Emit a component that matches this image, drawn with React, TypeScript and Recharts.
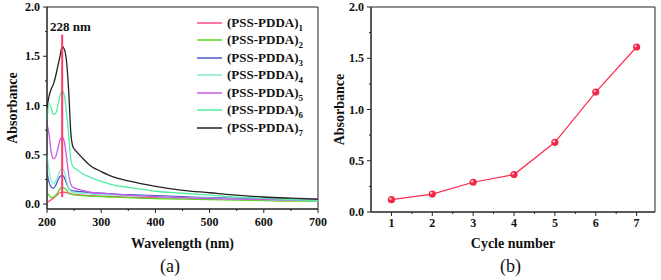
import { LineChart, Line, XAxis, YAxis, ReferenceArea, ReferenceLine, Legend } from 'recharts';

const FONT = '"Liberation Serif", "Times New Roman", serif';

// (a) UV-vis spectra, one array per layer count
const wavelengths = [200, 204, 208, 212, 216, 220, 224, 228, 232, 236, 240, 244, 248, 255, 265, 280, 300, 325, 350, 400, 450, 500, 550, 600, 650, 700];
const pssPdda1 = [0.02, 0.03, 0.045, 0.06, 0.08, 0.1, 0.115, 0.12, 0.12, 0.115, 0.11, 0.105, 0.1, 0.095, 0.09, 0.085, 0.08, 0.075, 0.07, 0.065, 0.06, 0.058, 0.055, 0.052, 0.05, 0.048];
const pssPdda2 = [0.12, 0.09, 0.065, 0.07, 0.09, 0.12, 0.155, 0.17, 0.165, 0.14, 0.115, 0.1, 0.095, 0.09, 0.085, 0.08, 0.075, 0.07, 0.065, 0.055, 0.05, 0.045, 0.04, 0.035, 0.03, 0.03];
const pssPdda3 = [0.32, 0.22, 0.17, 0.16, 0.19, 0.24, 0.28, 0.29, 0.27, 0.21, 0.16, 0.14, 0.135, 0.13, 0.125, 0.115, 0.11, 0.1, 0.095, 0.085, 0.075, 0.065, 0.058, 0.05, 0.045, 0.04];
const pssPdda4 = [0.5, 0.33, 0.24, 0.21, 0.23, 0.28, 0.34, 0.36, 0.33, 0.24, 0.16, 0.13, 0.12, 0.115, 0.11, 0.1, 0.095, 0.09, 0.085, 0.075, 0.065, 0.06, 0.05, 0.045, 0.04, 0.035];
const pssPdda5 = [0.82, 0.7, 0.52, 0.46, 0.48, 0.56, 0.65, 0.68, 0.63, 0.48, 0.3, 0.2, 0.17, 0.155, 0.14, 0.12, 0.11, 0.1, 0.09, 0.075, 0.065, 0.055, 0.05, 0.045, 0.04, 0.035];
const pssPdda6 = [0.85, 1.02, 0.97, 0.91, 0.92, 1.0, 1.1, 1.15, 1.1, 0.93, 0.7, 0.45, 0.38, 0.35, 0.31, 0.27, 0.23, 0.19, 0.17, 0.13, 0.11, 0.09, 0.07, 0.06, 0.045, 0.035];
const pssPdda7 = [0.98, 1.1, 1.17, 1.22, 1.3, 1.4, 1.5, 1.6, 1.57, 1.45, 1.15, 0.72, 0.58, 0.53, 0.47, 0.39, 0.33, 0.27, 0.235, 0.18, 0.14, 0.115, 0.09, 0.072, 0.06, 0.05];

const layerNames = ['(PSS-PDDA)1', '(PSS-PDDA)2', '(PSS-PDDA)3', '(PSS-PDDA)4', '(PSS-PDDA)5', '(PSS-PDDA)6', '(PSS-PDDA)7'];
const layerColors = ['#ff4a86', '#5ad81a', '#4a58cc', '#84efc8', '#c85ae8', '#50eea2', '#222222'];
const layerSeries = [pssPdda1, pssPdda2, pssPdda3, pssPdda4, pssPdda5, pssPdda6, pssPdda7];

// (b) absorbance at 228 nm vs cycle
const cycles = [1, 2, 3, 4, 5, 6, 7];
const peakAbsorbance = [0.12, 0.175, 0.29, 0.365, 0.68, 1.17, 1.61];

const wlTicks = [200, 250, 300, 350, 400, 450, 500, 550, 600, 650, 700];
const wlMajor = [200, 300, 400, 500, 600, 700];
const absTicks = [0, 0.25, 0.5, 0.75, 1, 1.25, 1.5, 1.75, 2];
const absMajor = [0, 0.5, 1, 1.5, 2];
const cycleTicks = [1, 1.5, 2, 2.5, 3, 3.5, 4, 4.5, 5, 5.5, 6, 6.5, 7];

const spectra = wavelengths.map((wl, i) => {
  const row: Record<string, number> = { wl };
  layerSeries.forEach((s, k) => { row['l' + (k + 1)] = s[i]; });
  return row;
});
const growth = cycles.map((c, i) => ({ cycle: c, abs: peakAbsorbance[i] }));

const fmt1 = (v: number) => v.toFixed(1);
const fmt0 = (v: number) => String(v);

function bottomTick(major: number[] | null, fmt: (v: number) => string, dy: number) {
  return (props: any) => {
    const { x, y, payload } = props;
    const isMajor = major ? major.includes(payload.value) : Number.isInteger(payload.value);
    return (
      <g>
        <line x1={x} x2={x} y1={y} y2={y + (isMajor ? 4 : 2)} stroke="#222" />
        {isMajor && (
          <text x={x} y={y + dy} textAnchor="middle" fontSize={12} fontWeight="bold" fontFamily={FONT} fill="#111">
            {fmt(payload.value)}
          </text>
        )}
      </g>
    );
  };
}

function leftTick(props: any) {
  const { x, y, payload } = props;
  const isMajor = absMajor.includes(payload.value);
  return (
    <g>
      <line x1={x} x2={x - (isMajor ? 4 : 2)} y1={y} y2={y} stroke="#222" />
      {isMajor && (
        <text x={x - 7} y={y + 4} textAnchor="end" fontSize={12} fontWeight="bold" fontFamily={FONT} fill="#111">
          {fmt1(payload.value)}
        </text>
      )}
    </g>
  );
}

function LayerLegend(props: any) {
  const { payload } = props;
  return (
    <div style={{ fontFamily: FONT, fontWeight: 'bold', fontSize: 13, color: '#111' }}>
      {(payload || []).map((p: any) => {
        const name = String(p.value);
        return (
          <div key={name} style={{ display: 'flex', alignItems: 'center', height: 17.5 }}>
            <svg width={25} height={4} style={{ marginRight: 5 }}>
              <line x1={0} x2={25} y1={2} y2={2} stroke={p.color} strokeWidth={1.5} />
            </svg>
            <span style={{ lineHeight: '14px' }}>
              {name.slice(0, -1)}
              <sub style={{ fontSize: 9, lineHeight: 0 }}>{name.slice(-1)}</sub>
            </span>
          </div>
        );
      })}
    </div>
  );
}

function Bead(props: any) {
  const { cx, cy, index } = props;
  return (
    <g key={'bead' + index}>
      <circle cx={cx} cy={cy} r={3.6} fill="#f0284a" />
      <circle cx={cx - 1} cy={cy - 1} r={1.2} fill="#ffb8c4" />
    </g>
  );
}

const axisTitle = { fontFamily: FONT, fontWeight: 'bold', fontSize: 14, fill: '#111' };

export default function App() {
  return (
    <div style={{ position: 'absolute', left: 0, top: 0, width: 661, height: 280, background: '#fff', fontFamily: FONT }}>
      <div style={{ position: 'absolute', left: 0, top: 0 }}>
        <LineChart width={330} height={280} data={spectra} margin={{ top: 7, right: 12, left: 0, bottom: 31 }} style={{ overflow: 'visible' }}>
          <ReferenceArea x1={200} x2={700} y1={-0.05} y2={2} fill="none" stroke="#222" />
          <XAxis
            dataKey="wl"
            type="number"
            domain={[200, 700]}
            ticks={wlTicks}
            interval={0}
            tickSize={0}
            tickMargin={0}
            tick={bottomTick(wlMajor, fmt0, 17)}
            stroke="#222"
            height={40}
            label={{ value: 'Wavelength (nm)', position: 'insideBottom', offset: 1, style: axisTitle }}
          />
          <YAxis
            type="number"
            domain={[-0.05, 2]}
            ticks={absTicks}
            interval={0}
            tickSize={0}
            tickMargin={0}
            tick={leftTick}
            stroke="#222"
            width={47}
            label={{ value: 'Absorbance', angle: -90, position: 'insideLeft', offset: 12, style: { ...axisTitle, textAnchor: 'middle' } }}
          />
          {layerSeries.map((_, k) => (
            <Line
              key={k}
              type="monotone"
              dataKey={'l' + (k + 1)}
              name={layerNames[k]}
              stroke={layerColors[k]}
              strokeWidth={1.3}
              dot={false}
              isAnimationActive={false}
            />
          ))}
          <ReferenceLine segment={[{ x: 228, y: 0.07 }, { x: 228, y: 1.72 }]} stroke="#ff3a6a" strokeWidth={2} />
          <Legend
            layout="vertical"
            align="center"
            verticalAlign="middle"
            content={LayerLegend}
            wrapperStyle={{ left: 197, top: 14, width: 130 }}
          />
        </LineChart>
      </div>
      <div style={{ position: 'absolute', left: 50, top: 19, fontSize: 13, fontWeight: 'bold', color: '#111' }}>228 nm</div>
      <div style={{ position: 'absolute', left: 160, top: 256, fontSize: 18, color: '#111' }}>(a)</div>

      <div style={{ position: 'absolute', left: 330, top: 0 }}>
        <LineChart width={331} height={280} data={growth} margin={{ top: 7, right: 6, left: 0, bottom: 31 }} style={{ overflow: 'visible' }}>
          <ReferenceArea x1={0.5} x2={7.45} y1={0} y2={2} fill="none" stroke="#222" />
          <XAxis
            dataKey="cycle"
            type="number"
            domain={[0.5, 7.45]}
            ticks={cycleTicks}
            interval={0}
            tickSize={0}
            tickMargin={0}
            tick={bottomTick(null, fmt0, 15)}
            stroke="#222"
            height={37}
            label={{ value: 'Cycle number', position: 'insideBottom', offset: 1, style: axisTitle }}
          />
          <YAxis
            type="number"
            domain={[0, 2]}
            ticks={absTicks}
            interval={0}
            tickSize={0}
            tickMargin={0}
            tick={leftTick}
            stroke="#222"
            width={41}
            label={{ value: 'Absorbance', angle: -90, position: 'insideLeft', offset: 9, style: { ...axisTitle, textAnchor: 'middle' } }}
          />
          <Line
            type="linear"
            dataKey="abs"
            stroke="#ff2a4e"
            strokeWidth={1.2}
            dot={Bead}
            isAnimationActive={false}
          />
        </LineChart>
      </div>
      <div style={{ position: 'absolute', left: 500, top: 256, fontSize: 18, color: '#111' }}>(b)</div>
    </div>
  );
}
